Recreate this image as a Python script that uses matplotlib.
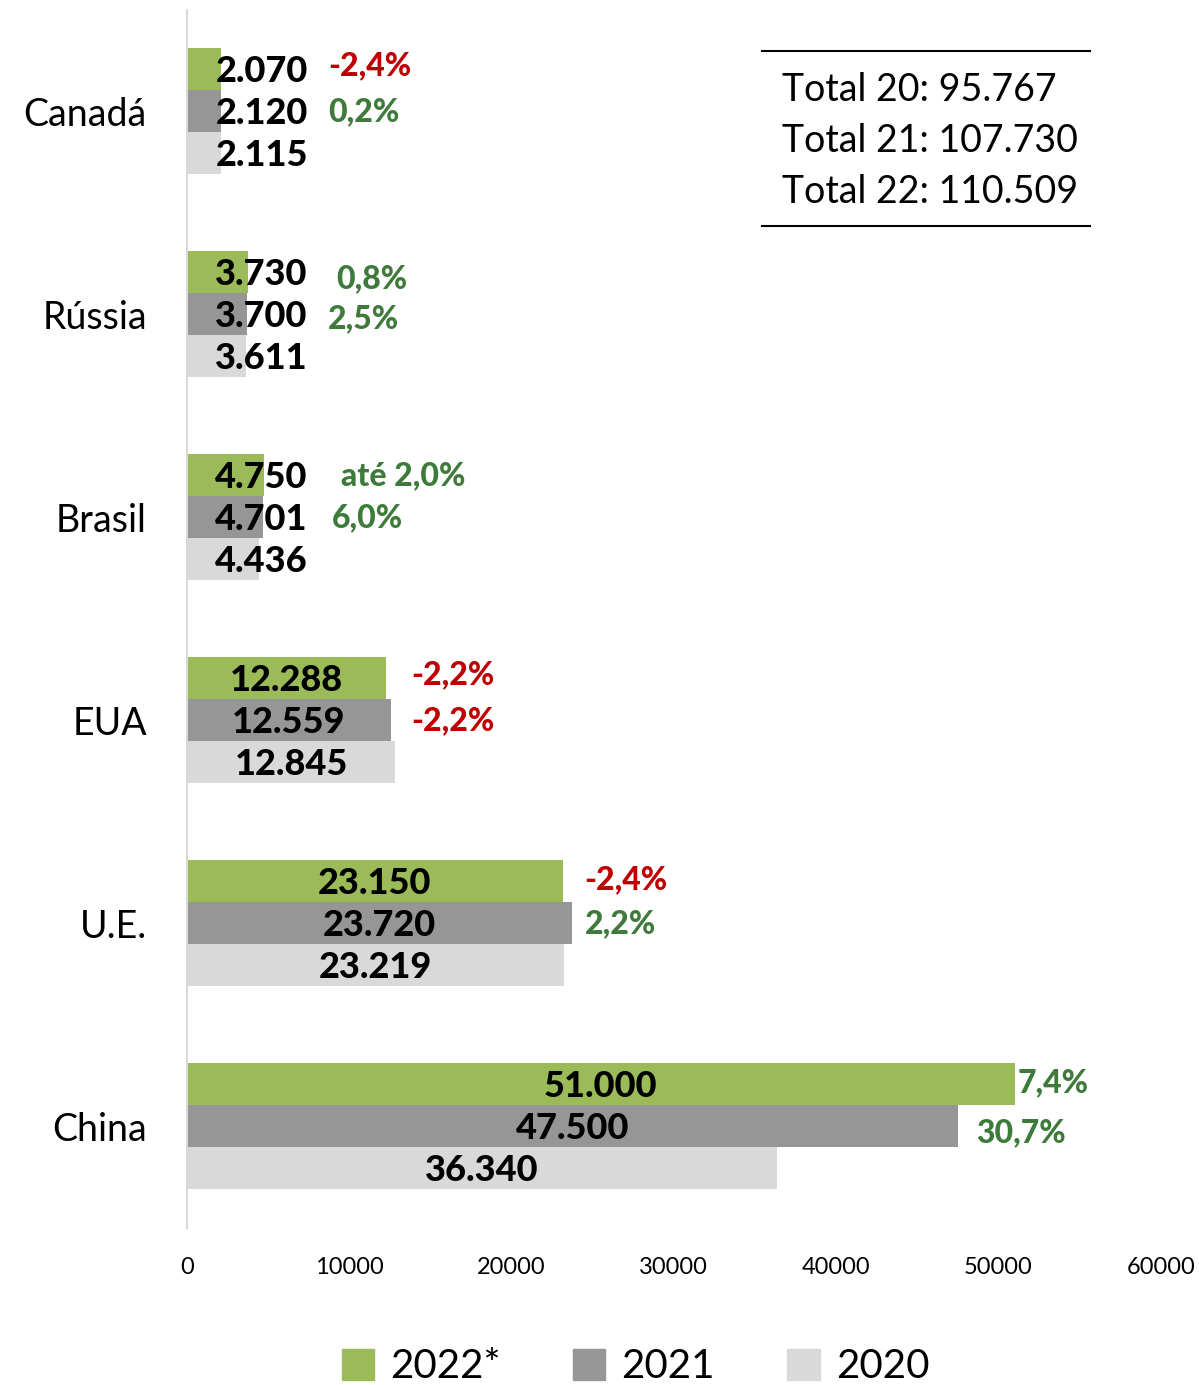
import matplotlib
matplotlib.use('Agg')
import matplotlib.pyplot as plt
from matplotlib.patches import Patch
import numpy as np

plt.rcParams['font.family'] = ['Lato', 'DejaVu Sans']

paises = ['Canadá', 'Rússia', 'Brasil', 'EUA', 'U.E.', 'China']
v2022 = [2070, 3730, 4750, 12288, 23150, 51000]
v2021 = [2120, 3700, 4701, 12559, 23720, 47500]
v2020 = [2115, 3611, 4436, 12845, 23219, 36340]

lab2022 = ['2.070', '3.730', '4.750', '12.288', '23.150', '51.000']
lab2021 = ['2.120', '3.700', '4.701', '12.559', '23.720', '47.500']
lab2020 = ['2.115', '3.611', '4.436', '12.845', '23.219', '36.340']

# variacoes (texto, cor)
var22 = ['-2,4%', '0,8%', 'até 2,0%', '-2,2%', '-2,4%', '7,4%']
var21 = ['0,2%', '2,5%', '6,0%', '-2,2%', '2,2%', '30,7%']
cor22 = ['r', 'g', 'g', 'r', 'r', 'g']
cor21 = ['g', 'g', 'g', 'r', 'g', 'g']

totais = ['Total 20: 95.767', 'Total 21: 107.730', 'Total 22: 110.509']

verde = '#9BBB59'
cinza = '#969696'
claro = '#D9D9D9'
cores_txt = {'g': '#3E7B3A', 'r': '#C00000'}

fig = plt.figure(figsize=(11.99, 13.85), dpi=100)
ax = fig.add_axes([0.156, 0.1134, 0.812, 0.8794])

y = np.arange(len(paises))
h = 0.207

ax.barh(y - h, v2022, height=h, color=verde, label='2022*')
ax.barh(y, v2021, height=h, color=cinza, label='2021')
ax.barh(y + h, v2020, height=h, color=claro, label='2020')

ax.set_xlim(0, 60000)
ax.set_ylim(len(paises) - 0.5, -0.5)
ax.set_yticks(y)
ax.set_yticklabels(paises, fontsize=27)
ax.set_xticks(np.arange(0, 60001, 10000))
ax.tick_params(axis='x', length=0, pad=21, labelsize=17)
ax.tick_params(axis='y', length=0, pad=29)

for s in ['top', 'right', 'bottom']:
    ax.spines[s].set_visible(False)
ax.spines['left'].set_color('#D9D9D9')
ax.spines['left'].set_linewidth(1.5)

# rotulos dos valores
for vals, labs, off in [(v2022, lab2022, -h), (v2021, lab2021, 0), (v2020, lab2020, h)]:
    for i, (v, t) in enumerate(zip(vals, labs)):
        xc = max(v / 2, 4600)
        ax.text(xc, i + off + 0.01, t, ha='center', va='center', fontsize=26,
                fontweight='black', color='black')

# variacoes percentuais
x22 = [8700, 9200, 9500, 13800, 24500, 51200]
x21 = [8700, 8700, 8900, 13800, 24500, 48600]
dy22 = [-0.02, 0.03, 0.0, -0.02, -0.01, -0.01]
dy21 = [0.0, 0.02, 0.0, 0.0, 0.0, 0.03]
for i in range(len(paises)):
    ax.text(x22[i], i - h + dy22[i], var22[i], ha='left', va='center',
            fontsize=23, fontweight='black', color=cores_txt[cor22[i]])
    ax.text(x21[i], i + dy21[i], var21[i], ha='left', va='center',
            fontsize=23, fontweight='black', color=cores_txt[cor21[i]])

# caixa de totais
fig.add_artist(plt.Line2D([0.6355, 0.909], [1 - 51 / 1385] * 2,
                          transform=fig.transFigure, color='black', lw=1.5))
fig.add_artist(plt.Line2D([0.6355, 0.909], [1 - 226 / 1385] * 2,
                          transform=fig.transFigure, color='black', lw=1.5))
for k, t in enumerate(totais):
    fig.text(782 / 1199, 1 - (90 + 51 * k) / 1385, t, ha='left', va='center',
             fontsize=27, color='black')

handles = [Patch(color=verde), Patch(color=cinza), Patch(color=claro)]
fig.legend(handles, ['2022*', '2021', '2020'], loc='center',
           bbox_to_anchor=(0.53, 0.013), ncol=3, frameon=False, fontsize=29,
           handlelength=0.8, handleheight=0.8, handletextpad=0.4,
           columnspacing=1.8)

fig.savefig('out.png', dpi=100)
